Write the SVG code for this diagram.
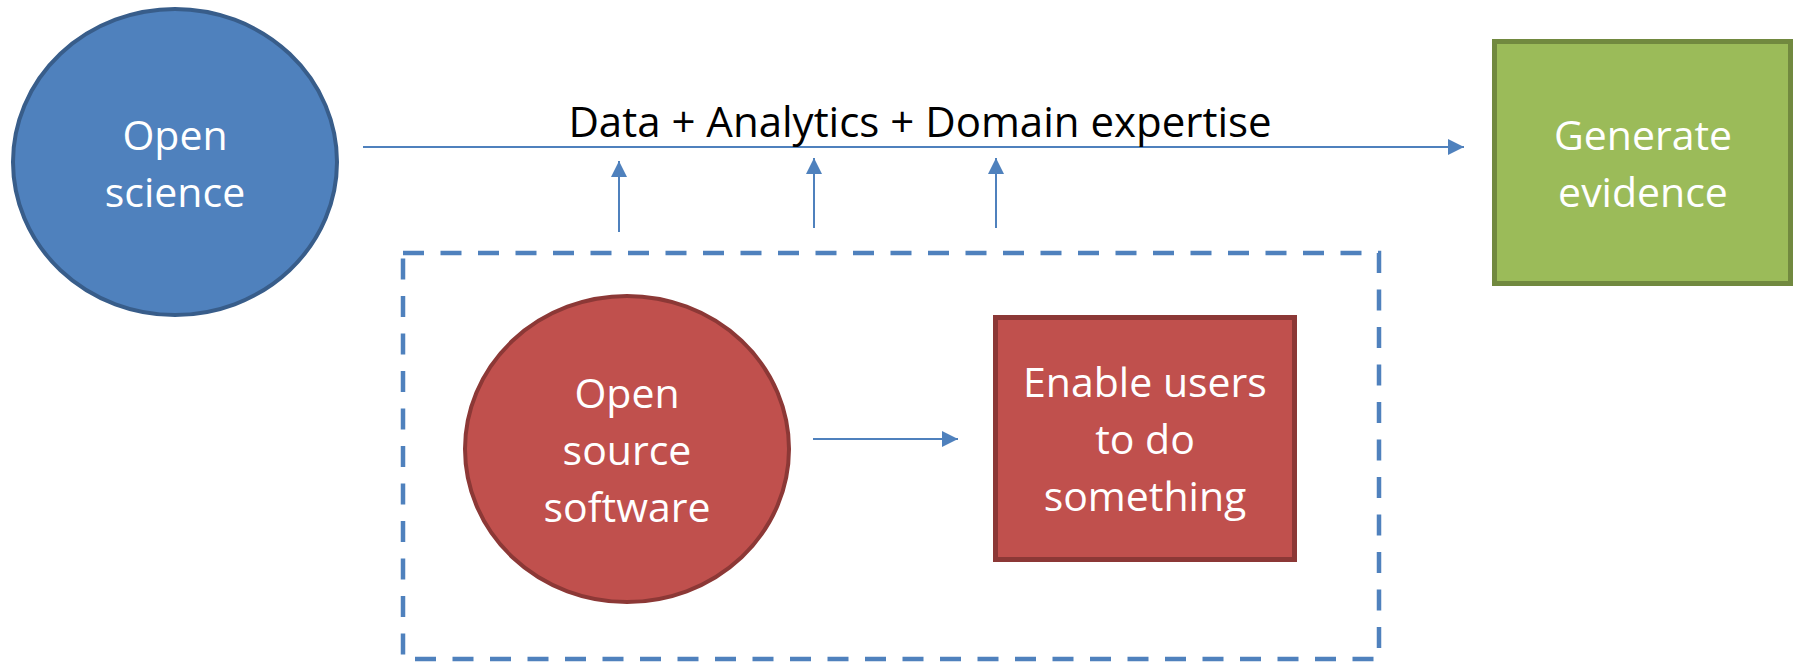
<svg xmlns="http://www.w3.org/2000/svg" width="1800" height="663" viewBox="0 0 1800 663">
<style>
.lbl{font-family:"Open Sans","Liberation Sans",sans-serif;font-size:41px;fill:#ffffff;text-anchor:middle}
.main{font-family:"Open Sans","Liberation Sans",sans-serif;font-size:42px;fill:#000000;text-anchor:middle}
.conn{stroke:#4f81bd;stroke-width:2;fill:none}
</style>
<defs>
<marker id="ah" viewBox="0 0 16 16" refX="16" refY="8" markerWidth="16" markerHeight="16" markerUnits="userSpaceOnUse" orient="auto">
<path d="M0,0 L16,8 L0,16 Z" fill="#4f81bd"/>
</marker>
</defs>
<rect width="1800" height="663" fill="#ffffff"/>
<g id="group-box">
<rect x="403" y="253" width="976" height="406" fill="none" stroke="#4f81bd" stroke-width="4.5" stroke-dasharray="21 16.5"/>
</g>
<g id="open-science">
<ellipse cx="175" cy="162" rx="162" ry="153" fill="#4f81bd" stroke="#385d8a" stroke-width="4"/>
<text class="lbl" x="175" y="150">Open</text>
<text class="lbl" x="175" y="207">science</text>
</g>
<g id="generate-evidence">
<rect x="1494.5" y="41.5" width="296" height="242" fill="#9bbb59" stroke="#71893f" stroke-width="5"/>
<text class="lbl" x="1643" y="150">Generate</text>
<text class="lbl" x="1643" y="207">evidence</text>
</g>
<g id="open-source-software">
<ellipse cx="627" cy="449" rx="162" ry="153" fill="#c0504d" stroke="#8c3836" stroke-width="4"/>
<text class="lbl" x="627" y="408">Open</text>
<text class="lbl" x="627" y="465">source</text>
<text class="lbl" x="627" y="522">software</text>
</g>
<g id="enable-users">
<rect x="995.5" y="317.5" width="299" height="242" fill="#c0504d" stroke="#8c3836" stroke-width="5"/>
<text class="lbl" x="1145" y="397">Enable users</text>
<text class="lbl" x="1145" y="454">to do</text>
<text class="lbl" x="1145" y="511">something</text>
</g>
<g id="connectors">
<line class="conn" x1="363" y1="147" x2="1464" y2="147" marker-end="url(#ah)"/>
<text class="main" x="920" y="137">Data + Analytics + Domain expertise</text>
<line class="conn" x1="619" y1="232" x2="619" y2="161" marker-end="url(#ah)"/>
<line class="conn" x1="814" y1="228" x2="814" y2="158" marker-end="url(#ah)"/>
<line class="conn" x1="996" y1="228" x2="996" y2="158" marker-end="url(#ah)"/>
<line class="conn" x1="813" y1="439" x2="958" y2="439" marker-end="url(#ah)"/>
</g>
</svg>
